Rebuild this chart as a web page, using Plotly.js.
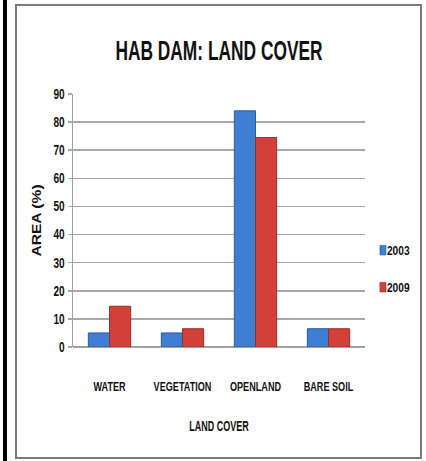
<!DOCTYPE html>
<html>
<head>
<meta charset="utf-8">
<script src="https://cdn.plot.ly/plotly-3.0.1.min.js"></script>
<style>
  html, body { margin: 0; padding: 0; background: #ffffff; }
  #wrap { position: relative; width: 426px; height: 461px; overflow: hidden; }
  #chart { position: absolute; left: 0; top: 0; width: 426px; height: 461px; }
  #blackline { position: absolute; left: 3px; top: 0; width: 4px; height: 461px; background: #000; }
  #frame { position: absolute; left: 15px; top: 4px; width: 403px; height: 451px; border: 2px solid #7a7a7a; pointer-events: none; }
</style>
</head>
<body>
<div id="wrap">
  <div id="chart"></div>
  <div id="blackline"></div>
  <div id="frame"></div>
</div>
<script>
const categories = ["WATER", "VEGETATION", "OPENLAND", "BARE SOIL"];
const series2003 = [5, 5, 84, 6.5];
const series2009 = [14.5, 6.5, 74.5, 6.5];
const seriesNames = ["2003", "2009"];
const yTicks = [0, 10, 20, 30, 40, 50, 60, 70, 80, 90];

const FONT = '"Liberation Sans", Arial, sans-serif';

const traces = [
  {
    type: 'bar', name: seriesNames[0], x: categories, y: series2003,
    legendgroup: 'a',
    marker: { color: '#3f7fd1', line: { color: '#2a5c9e', width: 1 } }
  },
  {
    type: 'bar', name: seriesNames[1], x: categories, y: series2009,
    legendgroup: 'b',
    marker: { color: '#d3403a', line: { color: '#92302b', width: 1 } }
  }
];

const layout = {
  width: 426, height: 461,
  margin: { l: 73, r: 61, t: 94, b: 114, autoexpand: false },
  paper_bgcolor: '#ffffff', plot_bgcolor: '#ffffff',
  font: { family: FONT, color: '#111111', weight: 'bold' },
  title: {
    text: 'HAB DAM: LAND COVER',
    font: { family: FONT, size: 28, color: '#111111', weight: 'bold' },
    x: 0.5, xref: 'paper', xanchor: 'center',
    y: 0.892, yref: 'container', yanchor: 'middle'
  },
  barmode: 'group',
  bargap: 0.42, bargroupgap: 0,
  xaxis: {
    type: 'category',
    tickangle: 0,
    tickfont: { family: FONT, size: 13, color: '#111111', weight: 'bold' },
    ticklabelstandoff: 30,
    showline: false, showgrid: false, ticks: '',
    title: { text: 'LAND COVER', font: { family: FONT, size: 15, color: '#111111', weight: 'bold' }, standoff: 27 }
  },
  yaxis: {
    range: [0, 90], tickvals: yTicks,
    tickfont: { family: FONT, size: 14, color: '#111111', weight: 'bold' },
    showgrid: true, gridcolor: '#a8a8a8', gridwidth: 1.5,
    showline: true, linecolor: '#a0a0a0', linewidth: 1.5,
    ticks: 'outside', ticklen: 4, tickcolor: '#a8a8a8', tickwidth: 1.5,
    zeroline: true, zerolinecolor: '#a0a0a0', zerolinewidth: 1.5,
    title: { text: 'AREA (%)', font: { family: FONT, size: 13, color: '#111111', weight: 'bold' }, standoff: 4 }
  },
  showlegend: true,
  legend: {
    x: 0.993, xanchor: 'left', y: 0.44, yanchor: 'top',
    traceorder: 'grouped', tracegroupgap: 18,
    font: { family: FONT, size: 12, color: '#111111', weight: 'bold' },
    itemwidth: 30, bgcolor: 'rgba(0,0,0,0)'
  }
};

function squeeze(el, s) {
  const x = parseFloat(el.getAttribute('x') || '0');
  const t = el.getAttribute('transform') || '';
  el.setAttribute('transform', t + ' translate(' + x + ',0) scale(' + s + ',1) translate(' + (-x) + ',0)');
}

Plotly.newPlot('chart', traces, layout, { displayModeBar: false, staticPlot: true }).then(gd => {
  gd.querySelectorAll('.gtitle').forEach(el => squeeze(el, 0.62));
  gd.querySelectorAll('.xtick text').forEach(el => squeeze(el, 0.7));
  gd.querySelectorAll('.ytick text').forEach(el => squeeze(el, 0.72));
  gd.querySelectorAll('.g-xtitle text').forEach(el => squeeze(el, 0.6));
  gd.querySelectorAll('.g-ytitle text').forEach(el => squeeze(el, 1.2));
  gd.querySelectorAll('.legendtext').forEach(el => {
    const x = parseFloat(el.getAttribute('x') || '40');
    el.setAttribute('x', x - 16);
    el.querySelectorAll('tspan[x]').forEach(ts => ts.setAttribute('x', x - 16));
    squeeze(el, 0.85);
  });
  gd.querySelectorAll('.legendpoints path').forEach(p => {
    const t = p.getAttribute('transform') || '';
    p.setAttribute('transform', t + ' scale(0.5,0.8)');
  });
});
</script>
</body>
</html>
